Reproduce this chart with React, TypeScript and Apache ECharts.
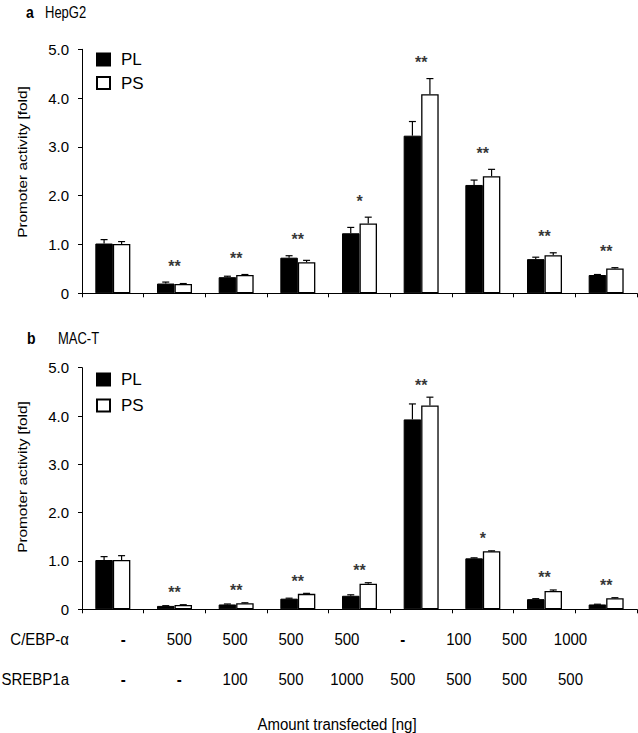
import React, { useEffect, useRef } from "react";
import * as echarts from "echarts";

// ---- data ----
const categories = ["C1", "C2", "C3", "C4", "C5", "C6", "C7", "C8", "C9"];
const cebpAmounts = ["-", "500", "500", "500", "500", "-", "100", "500", "1000"];
const srebpAmounts = ["-", "-", "100", "500", "1000", "500", "500", "500", "500"];
const seriesNames = ["PL", "PS"];

// Panel a: HepG2
const hepPL = [1.02, 0.2, 0.33, 0.73, 1.23, 3.23, 2.22, 0.7, 0.375];
const hepPLErr = [0.08, 0.03, 0.02, 0.04, 0.12, 0.29, 0.1, 0.04, 0.01];
const hepPS = [1.01, 0.19, 0.375, 0.635, 1.43, 4.08, 2.4, 0.78, 0.51];
const hepPSErr = [0.05, 0.01, 0.01, 0.04, 0.13, 0.32, 0.14, 0.05, 0.015];
const hepSig = ["", "**", "**", "**", "*", "**", "**", "**", "**"];

// Panel b: MAC-T
const macPL = [1.02, 0.07, 0.1, 0.22, 0.28, 3.93, 1.055, 0.21, 0.1];
const macPLErr = [0.07, 0.005, 0.01, 0.01, 0.02, 0.32, 0.01, 0.01, 0.005];
const macPS = [1.02, 0.09, 0.125, 0.32, 0.53, 4.22, 1.2, 0.38, 0.23];
const macPSErr = [0.09, 0.005, 0.01, 0.01, 0.02, 0.17, 0.01, 0.02, 0.01];
const macSig = ["", "**", "**", "**", "**", "**", "*", "**", "**"];

const FONT = "'Liberation Sans', Arial, Helvetica, sans-serif";
const BAR_W = 17.5;

function errRender(shift: number) {
  return (params: any, api: any) => {
    const i = api.value(0);
    const v = api.value(1);
    const e = api.value(2);
    const p0 = api.coord([i, v]);
    const p1 = api.coord([i, v + e]);
    const x = p0[0] + shift;
    const st = { stroke: "#000", lineWidth: 1.2 };
    return {
      type: "group",
      children: [
        { type: "line", shape: { x1: x, y1: p0[1], x2: x, y2: p1[1] }, style: st },
        { type: "line", shape: { x1: x - 3.5, y1: p1[1], x2: x + 3.5, y2: p1[1] }, style: st },
      ],
    };
  };
}

function panelSeries(
  idx: number,
  pl: number[],
  plErr: number[],
  ps: number[],
  psErr: number[],
  sig: string[],
  sigOffset: number
) {
  const axis = { xAxisIndex: idx, yAxisIndex: idx };
  return [
    {
      type: "bar",
      name: seriesNames[0],
      ...axis,
      data: pl,
      barWidth: BAR_W,
      barGap: "0%",
      itemStyle: { color: "#000", borderColor: "#000", borderWidth: 1 },
      silent: true,
    },
    {
      type: "bar",
      name: seriesNames[1],
      ...axis,
      data: ps,
      barWidth: BAR_W,
      barGap: "0%",
      itemStyle: { color: "#fff", borderColor: "#000", borderWidth: 1.3 },
      silent: true,
    },
    {
      type: "custom",
      ...axis,
      renderItem: errRender(-BAR_W / 2),
      data: pl.map((v, i) => [i, v, plErr[i]]),
      encode: { x: 0, y: 1 },
      z: 5,
      silent: true,
    },
    {
      type: "custom",
      ...axis,
      renderItem: errRender(BAR_W / 2),
      data: ps.map((v, i) => [i, v, psErr[i]]),
      encode: { x: 0, y: 1 },
      z: 5,
      silent: true,
    },
    {
      type: "scatter",
      ...axis,
      symbolSize: 0,
      silent: true,
      itemStyle: { color: "#000" },
      data: sig
        .map((s, i) => ({
          name: s,
          value: [i, Math.max(pl[i] + plErr[i], ps[i] + psErr[i])],
        }))
        .filter((d) => d.name !== ""),
      label: {
        show: true,
        position: "inside",
        offset: [0, -sigOffset],
        formatter: "{b}",
        fontSize: 16,
        fontWeight: "bold",
        fontFamily: FONT,
        color: "#000",
        textBorderWidth: 0,
        textBorderColor: "transparent",
      },
      z: 6,
    },
  ];
}

function axesFor(idx: number) {
  return {
    x: {
      type: "category",
      gridIndex: idx,
      data: categories,
      boundaryGap: true,
      axisLine: { lineStyle: { color: "#000", width: 1 } },
      axisTick: { show: true, interval: 0, length: 4, lineStyle: { color: "#000" } },
      axisLabel: { show: false },
    },
    y: {
      type: "value",
      gridIndex: idx,
      min: 0,
      max: 5,
      interval: 1,
      axisLine: { show: true, lineStyle: { color: "#000", width: 1 } },
      axisTick: { show: true, inside: false, length: 4, lineStyle: { color: "#000" } },
      splitLine: { show: false },
      axisLabel: {
        margin: 13,
        fontSize: 15,
        fontFamily: FONT,
        color: "#000",
        formatter: (v: number) => (v === 0 ? "0" : v.toFixed(1)),
      },
    },
  };
}

export default function App() {
  const ref = useRef<HTMLDivElement>(null);

  useEffect(() => {
    if (!ref.current) return;
    const chart = echarts.init(ref.current, undefined, { renderer: "svg" });
    const a = axesFor(0);
    const b = axesFor(1);

    const txt = (
      text: string,
      x: number,
      y: number,
      extra: any = {},
      rotation = 0,
      scaleX = 1,
      scaleY = 1
    ) => ({
      type: "text",
      x,
      y,
      rotation,
      scaleX,
      scaleY,
      style: {
        text,
        fontSize: 15,
        fontFamily: FONT,
        fill: "#000",
        align: "left",
        verticalAlign: "middle",
        ...extra,
      },
    });

    const colX0 = 123.3;
    const colStep = 55.9;
    const tableTexts: any[] = [];
    const rows: [string[], number][] = [
      [cebpAmounts, 639],
      [srebpAmounts, 679],
    ];
    rows.forEach(([vals, y]) => {
      vals.forEach((t, i) => {
        tableTexts.push(
          txt(
            t,
            colX0 + i * colStep,
            y,
            { align: "center", fontWeight: t === "-" ? "bold" : "normal" },
            0,
            1,
            1.08
          )
        );
      });
    });

    const legendCommon = {
      orient: "vertical",
      left: 96,
      padding: 0,
      itemWidth: 13,
      itemHeight: 12,
      icon: "rect",
      selectedMode: false,
      data: seriesNames,
      textStyle: { fontSize: 17, fontFamily: FONT, color: "#000", padding: [0, 0, 0, 6] },
    };

    const option: any = {
      animation: false,
      backgroundColor: "#fff",
      textStyle: { fontFamily: FONT },
      grid: [
        { left: 82, top: 49.3, width: 555, height: 244 },
        { left: 82, top: 367.7, width: 555, height: 241.6 },
      ],
      xAxis: [a.x, b.x],
      yAxis: [a.y, b.y],
      legend: [
        { ...legendCommon, top: 51, itemGap: 6.5 },
        { ...legendCommon, top: 371, itemGap: 9 },
      ],
      graphic: [
        txt("a", 26, 12, { fontWeight: "bold", fontSize: 14 }, 0, 1, 1.2),
        txt("HepG2", 45, 12, { fontSize: 13 }, 0, 1, 1.25),
        txt("b", 27, 338, { fontWeight: "bold", fontSize: 14 }, 0, 1, 1.2),
        txt("MAC-T", 58, 338, { fontSize: 13 }, 0, 1, 1.25),
        txt("Promoter activity [fold]", 22, 162, { align: "center", fontSize: 13 }, Math.PI / 2, 1.18, 1),
        txt("Promoter activity [fold]", 22, 477, { align: "center", fontSize: 13 }, Math.PI / 2, 1.18, 1),
        txt("C/EBP-α", 69, 639, { align: "right" }, 0, 1, 1.08),
        txt("SREBP1a", 69, 679, { align: "right" }, 0, 1, 1.08),
        txt("Amount transfected [ng]", 337, 724, { align: "center" }, 0, 1, 1.08),
        ...tableTexts,
      ],
      series: [
        ...panelSeries(0, hepPL, hepPLErr, hepPS, hepPSErr, hepSig, 16),
        ...panelSeries(1, macPL, macPLErr, macPS, macPSErr, macSig, 12),
      ],
    };
    chart.setOption(option);
    return () => chart.dispose();
  }, []);

  return (
    <div
      ref={ref}
      style={{ position: "absolute", left: 0, top: 0, width: 638, height: 733, background: "#fff" }}
    />
  );
}
